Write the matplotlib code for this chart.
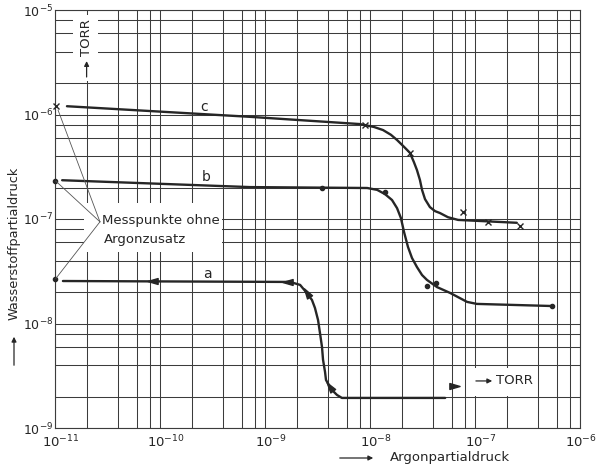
import numpy as np
import matplotlib
matplotlib.use("Agg")
import matplotlib.pyplot as plt
from matplotlib.ticker import LogLocator, NullFormatter
from matplotlib.patches import Rectangle
from matplotlib.path import Path
from matplotlib.markers import MarkerStyle
from matplotlib.transforms import Affine2D, ScaledTranslation

plt.rcParams['font.family'] = ['DejaVu Sans']
plt.rcParams['mathtext.default'] = 'regular'

# --- data (Argon partial pressure vs. hydrogen partial pressure, Torr) ---
c_x = [1.3e-11, 7.2e-10, 8.0e-9, 1.09e-8, 1.33e-8, 1.58e-8, 1.81e-8, 2.11e-8, 2.4e-8, 2.62e-8, 2.8e-8,
       2.99e-8, 3.13e-8, 3.34e-8, 3.72e-8, 4.16e-8, 4.64e-8, 5.53e-8, 6.9e-8, 2.5e-7]
c_y = [1.2e-6, 9.5e-7, 8.1e-7, 7.6e-7, 7.1e-7, 6.4e-7, 5.7e-7, 4.9e-7, 4.3e-7, 3.5e-7, 2.94e-7,
       2.36e-7, 1.9e-7, 1.55e-7, 1.3e-7, 1.19e-7, 1.14e-7, 1.04e-7, 9.8e-8, 9.2e-8]
c_cross_x = [1.02e-11, 8.9e-9, 2.4e-8, 7.7e-8, 1.33e-7, 2.7e-7]
c_cross_y = [1.2e-6, 7.9e-7, 4.3e-7, 1.17e-7, 9.4e-8, 8.6e-8]

b_x = [1.17e-11, 7.2e-10, 9.4e-9, 1.17e-8, 1.39e-8, 1.62e-8, 1.81e-8, 1.97e-8, 2.11e-8, 2.3e-8, 2.51e-8,
       2.8e-8, 3.13e-8, 3.49e-8, 4.35e-8, 5.8e-8, 8.4e-8, 1.04e-7, 5.4e-7]
b_y = [2.35e-7, 2.02e-7, 1.98e-7, 1.9e-7, 1.73e-7, 1.52e-7, 1.27e-7, 1.02e-7, 7.5e-8, 5.4e-8, 4.24e-8,
       3.47e-8, 2.91e-8, 2.61e-8, 2.23e-8, 1.96e-8, 1.61e-8, 1.54e-8, 1.47e-8]
b_dot_x = [1.0e-11, 3.5e-9, 1.4e-8, 3.5e-8, 4.25e-8, 5.4e-7]
b_dot_y = [2.31e-7, 1.98e-7, 1.83e-7, 2.29e-8, 2.44e-8, 1.47e-8]

a_x = [1.19e-11, 1.48e-9, 1.73e-9, 2.16e-9, 2.5e-9, 2.8e-9, 2.99e-9, 3.2e-9, 3.34e-9, 3.49e-9, 3.57e-9,
       3.73e-9, 3.81e-9, 4.16e-9, 4.54e-9, 4.85e-9, 5.4e-9, 5.2e-8]
a_y = [2.55e-8, 2.5e-8, 2.5e-8, 2.34e-8, 1.96e-8, 1.68e-8, 1.41e-8, 1.08e-8, 8.1e-9, 5.96e-9, 4.5e-9,
       3.44e-9, 2.88e-9, 2.47e-9, 2.21e-9, 2.07e-9, 1.94e-9, 1.94e-9]
a_dot_x = [1.0e-11]
a_dot_y = [2.67e-8]
# arrow heads along curve a, with their pointing angle (degrees, screen space)
a_arrow_x = [8.6e-11, 1.66e-9, 2.5e-9, 4.16e-9, 6.3e-8]
a_arrow_y = [2.55e-8, 2.5e-8, 1.96e-8, 2.47e-9, 2.52e-9]
a_arrow_ang = [180, 180, 123, 126, 0]

curve_labels = ['a', 'b', 'c']
label_x = [2.8e-10, 2.74e-10, 2.63e-10]
label_y = [2.98e-8, 2.52e-7, 1.18e-6]

# leader lines "Messpunkte ohne Argonzusatz"
leader_hub = (2.68e-11, 9.4e-8)
leader_end_x = [1.07e-11, 1.02e-11, 1.02e-11]
leader_end_y = [1.1e-6, 2.3e-7, 2.7e-8]

xticks = [1e-11, 1e-10, 1e-9, 1e-8, 1e-7, 1e-6]
xtick_labels = ['$10^{-11}$', '$10^{-10}$', '$10^{-9}$', '$10^{-8}$', '$10^{-7}$', '$10^{-6}$']
yticks = [1e-9, 1e-8, 1e-7, 1e-6, 1e-5]
ytick_labels = ['$10^{-9}$', '$10^{-8}$', '$10^{-7}$', '$10^{-6}$', '$10^{-5}$']

W, H = 604, 466
ink = '#262626'
grid_col = '#3c3c3c'

fig = plt.figure(figsize=(W / 100, H / 100), dpi=100)
ax = fig.add_axes([55 / W, 38 / H, 525 / W, 418 / H])
ax.set_xscale('log')
ax.set_yscale('log')
ax.set_xlim(1e-11, 1e-6)
ax.set_ylim(1e-9, 1e-5)

ax.set_xticks(xticks)
ax.set_xticklabels(xtick_labels)
ax.set_yticks(yticks)
ax.set_yticklabels(ytick_labels)
ax.xaxis.set_minor_locator(LogLocator(base=10, subs=[2, 4, 6, 8]))
ax.yaxis.set_minor_locator(LogLocator(base=10, subs=[2, 4, 6, 8]))
ax.xaxis.set_minor_formatter(NullFormatter())
ax.yaxis.set_minor_formatter(NullFormatter())
ax.tick_params(which='both', length=0, colors=ink)
ax.tick_params(axis='x', pad=4, labelsize=9.5)
ax.tick_params(axis='y', pad=1, labelsize=9)
# the scanned x labels sit a little right of their grid lines
for i, lab in enumerate(ax.get_xticklabels()):
    dx = 1 if i == len(xticks) - 1 else 6
    lab.set_transform(lab.get_transform() + ScaledTranslation(dx / 100, 0, fig.dpi_scale_trans))
ax.set_axisbelow(True)
ax.grid(True, which='both', color=grid_col, lw=0.75)
for sp in ax.spines.values():
    sp.set_color(grid_col)
    sp.set_linewidth(0.8)

# white patches where the grid was blanked out for lettering
def blank(x0, y0, x1, y1):
    # pixel rectangle -> figure fraction
    ax.add_patch(Rectangle((x0 / W, 1 - y1 / H), (x1 - x0) / W, (y1 - y0) / H,
                           transform=fig.transFigure, facecolor='white', edgecolor='none', zorder=1))

blank(73, 15, 98, 81)
blank(468, 368, 533, 396)
blank(84, 203, 222, 252)

# curves
lw = 1.7
ax.plot(c_x, c_y, color=ink, lw=lw, zorder=3, solid_capstyle='round', solid_joinstyle='round')
ax.plot(b_x, b_y, color=ink, lw=lw, zorder=3, solid_capstyle='round', solid_joinstyle='round')
ax.plot(a_x, a_y, color=ink, lw=lw, zorder=3, solid_capstyle='round', solid_joinstyle='round')

ax.plot(c_cross_x, c_cross_y, 'x', color=ink, ms=5, mew=1.0, zorder=4, clip_on=False)
ax.plot(b_dot_x, b_dot_y, 'o', color=ink, ms=3, zorder=4, clip_on=False)
ax.plot(a_dot_x, a_dot_y, 'o', color=ink, ms=3, zorder=4, clip_on=False)

head = Path([(0.6, 0), (-0.5, 0.32), (-0.5, -0.32), (0.6, 0)],
            [Path.MOVETO, Path.LINETO, Path.LINETO, Path.CLOSEPOLY])
for x, y, ang in zip(a_arrow_x, a_arrow_y, a_arrow_ang):
    m = MarkerStyle(head, transform=Affine2D().rotate_deg(ang))
    ax.plot([x], [y], marker=m, color=ink, ms=8, lw=0, zorder=5)

for t, x, y in zip(curve_labels, label_x, label_y):
    ax.text(x, y, t, fontsize=10, color=ink, ha='center', va='center', zorder=4)

# leader lines to the measurement points without argon
for x, y in zip(leader_end_x, leader_end_y):
    ax.plot([leader_hub[0], x], [leader_hub[1], y], color='#555555', lw=0.6, zorder=4, clip_on=False)

ax.text(2.8e-11, 9.6e-8, 'Messpunkte ohne', fontsize=9.5, color=ink, ha='left', va='center', zorder=4)
ax.text(2.9e-11, 6.3e-8, 'Argonzusatz', fontsize=9.5, color=ink, ha='left', va='center', zorder=4)

# unit markers inside the grid
ax.text(2.0e-11, 5.4e-6, 'TORR', rotation=90, fontsize=9.5, color=ink, ha='center', va='center', zorder=4)
ax.annotate('', xy=(2.0e-11, 3.45e-6), xytext=(2.0e-11, 2.15e-6),
            arrowprops=dict(arrowstyle='-|>', color=ink, lw=0.9, mutation_scale=7), zorder=4)
ax.annotate('', xy=(1.55e-7, 2.82e-9), xytext=(9.6e-8, 2.82e-9),
            arrowprops=dict(arrowstyle='-|>', color=ink, lw=0.9, mutation_scale=7), zorder=4)
ax.text(1.6e-7, 2.82e-9, 'TORR', fontsize=9.5, color=ink, ha='left', va='center', zorder=4)

# axis titles with their arrows
fig.text(14 / W, 1 - 243 / H, 'Wasserstoffpartialdruck', rotation=90, fontsize=9.3,
         color=ink, ha='center', va='center')
fig.text(390 / W, 1 - 458 / H, 'Argonpartialdruck', fontsize=9.5, color=ink, ha='left', va='center')
ax.annotate('', xy=(14 / W, 1 - 334 / H), xytext=(14 / W, 1 - 368 / H), xycoords='figure fraction',
            arrowprops=dict(arrowstyle='-|>', color=ink, lw=0.9, mutation_scale=7))
ax.annotate('', xy=(376 / W, 1 - 458 / H), xytext=(337 / W, 1 - 458 / H), xycoords='figure fraction',
            arrowprops=dict(arrowstyle='-|>', color=ink, lw=0.9, mutation_scale=7))

fig.savefig('out.png', dpi=100, facecolor='white')
